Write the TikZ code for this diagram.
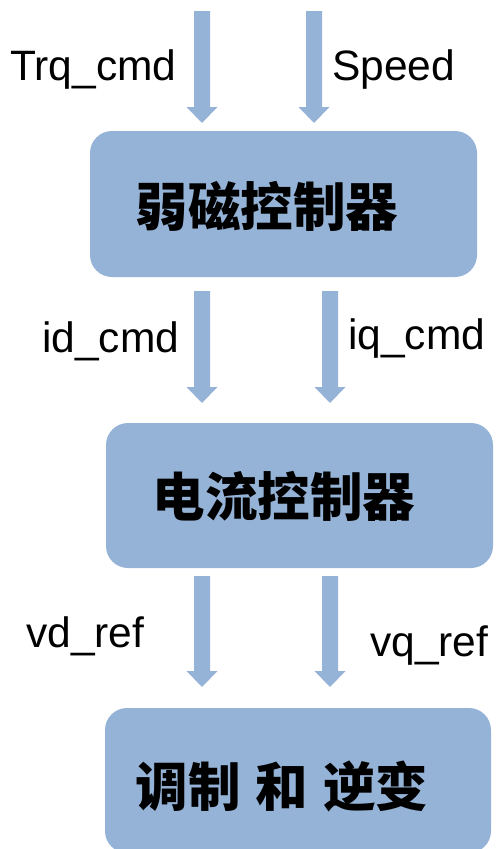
\documentclass[tikz,border=0pt]{standalone}
\usepackage{fontspec}
\setmainfont{Liberation Sans}
\newfontfamily\cjk{Noto Sans CJK SC}
\usetikzlibrary{calc}
\definecolor{boxblue}{HTML}{95B3D7}
\tikzset{
  box/.style={fill=boxblue, draw=none, rounded corners=22pt, inner sep=0pt},
  lbl/.style={anchor=base west, inner sep=0pt, font=\fontsize{42.5pt}{50pt}\selectfont},
  cjktext/.style={anchor=center, inner sep=0pt, font=\cjk\bfseries\fontsize{52.5pt}{60pt}\selectfont},
  arrc/.style={fill=boxblue, draw=none}
}
\newcommand\blockarr[2]{%
  \fill[arrc] ($(#1)+(-8,0)$) -- ($(#2)+(-8,-16)$) -- ($(#2)+(-15.5,-16)$) -- (#2)
    -- ($(#2)+(15.5,-16)$) -- ($(#2)+(8,-16)$) -- ($(#1)+(8,0)$) -- cycle;}
\begin{document}
\begin{tikzpicture}[x=1pt,y=-1pt]
\useasboundingbox (0,0) rectangle (497,849);
% boxes
\node[box, minimum width=387pt, minimum height=146pt] (b1) at (283.5,204) {};
\node[box, minimum width=387pt, minimum height=145pt] (b2) at (299.5,495.5) {};
\node[box, minimum width=386pt, minimum height=145pt] (b3) at (298,780.5) {};
\node[cjktext] (t1) at (267,206) {弱磁控制器};
\node[cjktext] (t2) at (284,496) {电流控制器};
\node[cjktext] (t3) at (282,786) {调制\hspace{15pt}和\hspace{15pt}逆变};
% arrow coordinates
\coordinate (s1) at (202,11);  \coordinate (e1) at (202,123);
\coordinate (s2) at (314,11);  \coordinate (e2) at (314,123);
\coordinate (s3) at (202,291); \coordinate (e3) at (202,403);
\coordinate (s4) at (330,291); \coordinate (e4) at (330,403);
\coordinate (s5) at (202,576); \coordinate (e5) at (202,687);
\coordinate (s6) at (330,576); \coordinate (e6) at (330,687);
\blockarr{s1}{e1}
\blockarr{s2}{e2}
\blockarr{s3}{e3}
\blockarr{s4}{e4}
\blockarr{s5}{e5}
\blockarr{s6}{e6}
% labels
\node[lbl] (l1) at (10,80) {Trq\_cmd};
\node[lbl] (l2) at (332,80) {Speed};
\node[lbl] (l3) at (42,352) {id\_cmd};
\node[lbl] (l4) at (348,349) {iq\_cmd};
\node[lbl] (l5) at (26,647) {vd\_ref};
\node[lbl] (l6) at (370,656) {vq\_ref};
\end{tikzpicture}
\end{document}
